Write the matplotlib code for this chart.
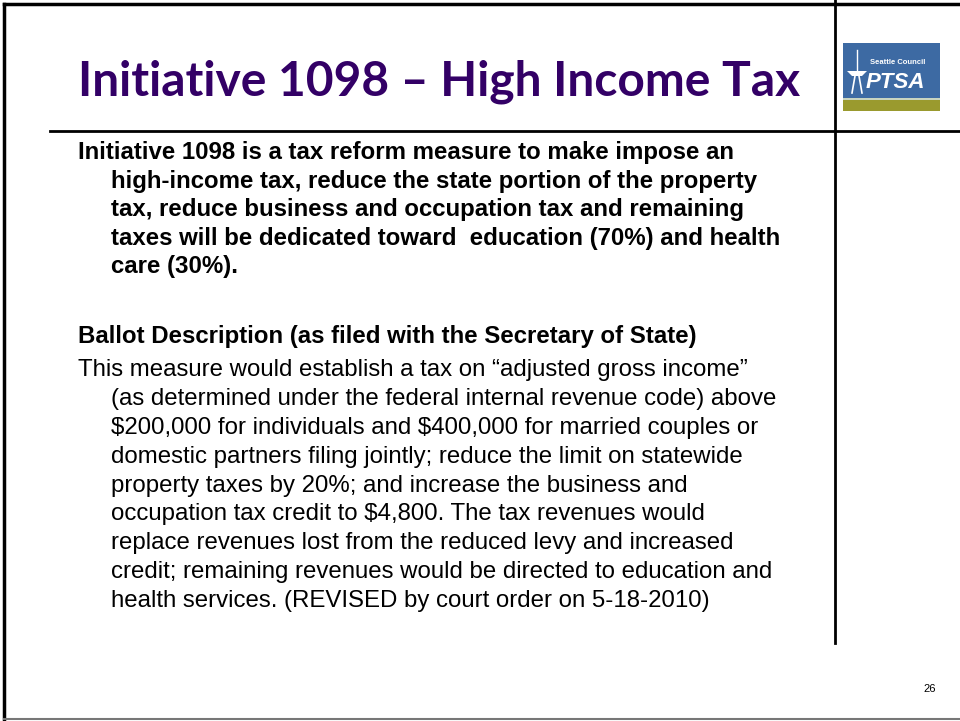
import matplotlib.pyplot as plt
from matplotlib.patches import Rectangle, Polygon

plt.rcParams["text.parse_math"] = False

# slide text
title = "Initiative 1098 \u2013 High Income Tax"

summary_lines = [
    "Initiative 1098 is a tax reform measure to make impose an",
    "high-income tax, reduce the state portion of the property",
    "tax, reduce business and occupation tax and remaining",
    "taxes will be dedicated toward  education (70%) and health",
    "care (30%).",
]

ballot_heading = "Ballot Description (as filed with the Secretary of State)"

ballot_lines = [
    "This measure would establish a tax on \u201cadjusted gross income\u201d",
    "(as determined under the federal internal revenue code) above",
    "$200,000 for individuals and $400,000 for married couples or",
    "domestic partners filing jointly; reduce the limit on statewide",
    "property taxes by 20%; and increase the business and",
    "occupation tax credit to $4,800. The tax revenues would",
    "replace revenues lost from the reduced levy and increased",
    "credit; remaining revenues would be directed to education and",
    "health services. (REVISED by court order on 5-18-2010)",
]

page_number = "26"

fig = plt.figure(figsize=(9.6, 7.21), dpi=100)
ax = fig.add_axes([0, 0, 1, 1])
ax.set_xlim(0, 960)
ax.set_ylim(721, 0)
ax.axis("off")

# frame lines
ax.plot([4, 960], [4, 4], color="black", lw=2.5)
ax.plot([4, 4], [4, 719], color="black", lw=2.5)
ax.plot([4, 960], [719, 719], color="#777777", lw=1.5)
ax.plot([835, 835], [0, 643], color="black", lw=2)
ax.plot([50, 960], [131, 131], color="black", lw=2)

# title
ax.text(78, 82, title, fontsize=34.5, fontweight="bold", color="#330066",
        family="Lato", va="center", ha="left")

# logo
ax.add_patch(Rectangle((843, 43), 97, 55, color="#3d6aa3", lw=0))
ax.add_patch(Rectangle((843, 98), 97, 2, color="#c8d4c0", lw=0))
ax.add_patch(Rectangle((843, 100), 97, 11, color="#9a9a2e", lw=0))
# space needle silhouette
ax.add_patch(Polygon([(847, 71), (867, 71), (862, 76), (852, 76)],
                     closed=True, color="white", lw=0))
ax.plot([857, 857], [50, 71], color="white", lw=1)
ax.plot([855, 852], [76, 93], color="white", lw=1.2)
ax.plot([859, 862], [76, 93], color="white", lw=1.2)
ax.text(898, 63, "Seattle Council", fontsize=5.5, fontweight="bold",
        color="white", ha="center", va="center", family="Liberation Sans")
ax.text(895, 82, "PTSA", fontsize=16, fontweight="bold", style="italic",
        color="white", ha="center", va="center", family="Liberation Sans")

# summary paragraph (bold, hanging indent)
y = 153
for i, line in enumerate(summary_lines):
    x = 78 if i == 0 else 111
    ax.text(x, y, line, fontsize=17.25, fontweight="bold", color="black",
            family="Liberation Sans", va="center", ha="left")
    y += 28.4

ax.text(78, 336, ballot_heading, fontsize=17.25, fontweight="bold",
        color="black", family="Liberation Sans", va="center", ha="left")

y = 370
for i, line in enumerate(ballot_lines):
    x = 78 if i == 0 else 111
    ax.text(x, y, line, fontsize=17.25, color="black",
            family="Liberation Sans", va="center", ha="left")
    y += 28.9

ax.text(930, 689, page_number, fontsize=8, color="black",
        family="Liberation Sans", va="center", ha="center")

fig.savefig("out.png", dpi=100)
